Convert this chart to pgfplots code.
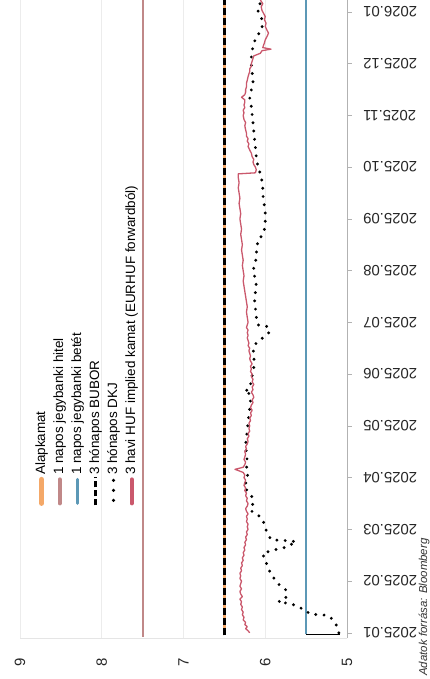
\documentclass[border=0pt]{standalone}
\usepackage{fontspec}
\setmainfont{Liberation Sans}
\usepackage{pgfplots}
\pgfplotsset{compat=1.18}
\definecolor{alap}{RGB}{244,168,104}
\definecolor{hitel}{RGB}{192,136,136}
\definecolor{betet}{RGB}{92,152,182}
\definecolor{implied}{RGB}{202,88,108}
\begin{document}
\begin{tikzpicture}
\begin{scope}[transform canvas={rotate=90}]
\begin{axis}[
  at={(41bp,83bp)}, anchor=south west,
  scale only axis, width=638bp, height=327bp,
  xmin=-0.1, xmax=12.23, ymin=5, ymax=9,
  axis lines*=left,
  x axis line style={gray!60, line width=0.8bp},
  y axis line style={gray!20, line width=0.8bp},
  ymajorgrids, grid style={gray!15, line width=0.8bp},
  xtick={0,...,12},
  xticklabels={2025.01,2025.02,2025.03,2025.04,2025.05,2025.06,2025.07,2025.08,2025.09,2025.10,2025.11,2025.12,2026.01},
  ytick={5,6,7,8,9},
  tick align=outside, major tick length=5bp,
  xtick style={gray!60, line width=0.6bp},
  ytick style={draw=none},
  tick label style={font=\fontsize{15}{15}\selectfont, text=black!85},
  /pgf/number format/assume math mode=true,
  xticklabel style={rotate=90, anchor=east, inner sep=0pt},
  xticklabel shift=11bp,
  yticklabel style={anchor=east, inner sep=0pt, xshift=-15bp},
  legend cell align=left,
  legend style={at={(axis cs:2.43,8.83)}, anchor=north west, draw=none, fill=none, inner sep=0pt,
    font=\fontsize{13.5}{16}\selectfont, row sep=3bp,
    nodes={inner sep=1bp, text height=10bp, text depth=3bp}},
]
\addplot[alap, line width=3bp,
  legend image code/.code={\draw[alap, line width=5bp, line cap=round] (2bp,0bp) -- (26bp,0bp);}]
  coordinates {(-0.05,6.5) (12.23,6.5)};
\addlegendentry{Alapkamat}
\addplot[hitel, line width=1.8bp,
  legend image code/.code={\draw[hitel, line width=4bp, line cap=round] (2bp,0bp) -- (26bp,0bp);}]
  coordinates {(-0.08,7.5) (12.23,7.5)};
\addlegendentry{1 napos jegybanki hitel}
\addplot[betet, line width=1.8bp,
  legend image code/.code={\draw[betet, line width=3bp, line cap=round] (2bp,0bp) -- (26bp,0bp);}]
  coordinates {(-0.03,5.5) (12.23,5.5)};
\addlegendentry{1 napos jegybanki betét}
\addplot[black, line width=2.6bp, dash pattern=on 7bp off 3bp,
  legend image code/.code={\draw[black, line width=3bp, dash pattern=on 6bp off 3bp] (0bp,0bp) -- (28bp,0bp);}]
  coordinates {(-0.05,6.5) (12.23,6.5)};
\addlegendentry{3 hónapos BUBOR}
\addplot[black, line width=3.2bp, line cap=round, dash pattern=on 0bp off 8.3bp,
  legend image code/.code={\draw[black, line width=3.5bp, line cap=round, dash pattern=on 0bp off 10bp] (5bp,0bp) -- (26bp,0bp);}]
  coordinates {
  (0.00,5.10) (0.15,5.13) (0.30,5.20) (0.34,5.25) (0.36,5.45) (0.45,5.52) (0.50,5.60)
  (0.56,5.68) (0.60,5.84) (0.64,5.76) (0.72,5.74) (0.82,5.74) (0.93,5.83) (1.05,5.89)
  (1.15,5.94) (1.28,5.96) (1.40,6.01) (1.54,6.03) (1.58,5.94) (1.62,5.84) (1.66,5.73)
  (1.73,5.66) (1.76,5.62) (1.78,5.72) (1.79,5.84) (1.80,5.93) (1.92,5.97) (2.02,6.00)
  (2.19,6.03) (2.31,6.11) (2.36,6.18) (2.50,6.15) (2.60,6.15) (2.73,6.21) (2.82,6.26)
  (3.00,6.21) (3.15,6.23) (3.31,6.22) (3.63,6.24) (3.92,6.22) (4.21,6.20) (4.47,6.18)
  (4.62,6.19) (4.66,6.26) (4.72,6.19) (4.89,6.17) (5.21,6.13) (5.40,6.15) (5.57,6.13)
  (5.73,6.01) (5.82,5.94) (5.92,5.98) (5.95,6.09) (6.11,6.11) (6.27,6.12) (6.43,6.13)
  (6.60,6.12) (6.76,6.11) (6.89,6.13) (7.01,6.15) (7.14,6.12) (7.30,6.11) (7.46,6.10)
  (7.59,6.09) (7.69,6.03) (7.85,6.00) (8.01,6.00) (8.17,6.00) (8.33,6.02) (8.50,6.03)
  (8.62,6.03) (8.82,6.05) (9.01,6.09) (9.20,6.11) (9.37,6.12) (9.53,6.13) (9.69,6.14)
  (9.85,6.15) (10.01,6.16) (10.17,6.17) (10.33,6.19) (10.49,6.17) (10.65,6.15) (10.82,6.16)
  (10.98,6.17) (11.17,6.17) (11.33,6.15) (11.53,6.11) (11.62,6.05) (11.78,6.03) (11.91,6.05)
  (12.05,6.10) (12.23,6.04)};
\addlegendentry{3 hónapos DKJ}
\addplot[implied, line width=1.3bp, line join=round,
  legend image code/.code={\draw[implied, line width=4bp, line cap=round] (2bp,0bp) -- (26bp,0bp);}]
  coordinates {
  (0.00,6.19) (0.04,6.21) (0.08,6.24) (0.12,6.22) (0.16,6.25) (0.20,6.24) (0.25,6.27)
  (0.30,6.26) (0.35,6.28) (0.40,6.27) (0.45,6.29) (0.50,6.28) (0.55,6.30) (0.60,6.29)
  (0.65,6.31) (0.70,6.28) (0.75,6.30) (0.80,6.31) (0.85,6.29) (0.90,6.31) (0.95,6.30)
  (1.00,6.29) (1.05,6.31) (1.10,6.30) (1.15,6.31) (1.20,6.29) (1.25,6.30) (1.30,6.28)
  (1.35,6.29) (1.40,6.27) (1.45,6.28) (1.50,6.26) (1.55,6.27) (1.60,6.25) (1.65,6.26)
  (1.70,6.24) (1.75,6.25) (1.80,6.23) (1.85,6.24) (1.90,6.22) (1.95,6.23) (2.00,6.21)
  (2.05,6.22) (2.10,6.21) (2.15,6.23) (2.20,6.22) (2.25,6.23) (2.30,6.21) (2.35,6.23)
  (2.40,6.24) (2.45,6.22) (2.50,6.21) (2.55,6.23) (2.60,6.22) (2.65,6.24) (2.70,6.23)
  (2.75,6.25) (2.80,6.24) (2.85,6.26) (2.90,6.25) (2.95,6.24) (3.00,6.26) (3.05,6.25)
  (3.10,6.27) (3.16,6.37) (3.20,6.27) (3.25,6.25) (3.30,6.24) (3.35,6.26) (3.40,6.25)
  (3.45,6.24) (3.50,6.25) (3.55,6.23) (3.60,6.24) (3.65,6.22) (3.70,6.21) (3.75,6.22)
  (3.80,6.20) (3.85,6.21) (3.90,6.19) (3.95,6.20) (4.00,6.19) (4.05,6.20) (4.10,6.18)
  (4.15,6.19) (4.20,6.17) (4.25,6.18) (4.30,6.16) (4.35,6.18) (4.40,6.17) (4.45,6.15)
  (4.50,6.16) (4.55,6.14) (4.60,6.15) (4.65,6.17) (4.70,6.15) (4.75,6.16) (4.80,6.14)
  (4.85,6.16) (4.90,6.15) (4.95,6.17) (5.00,6.16) (5.05,6.18) (5.10,6.17) (5.15,6.18)
  (5.20,6.16) (5.25,6.18) (5.30,6.19) (5.35,6.18) (5.40,6.19) (5.45,6.20) (5.50,6.19)
  (5.55,6.21) (5.60,6.20) (5.65,6.21) (5.70,6.22) (5.75,6.21) (5.80,6.22) (5.85,6.21)
  (5.90,6.23) (5.95,6.22) (6.00,6.21) (6.10,6.22) (6.20,6.23) (6.30,6.22) (6.40,6.23)
  (6.50,6.24) (6.60,6.25) (6.70,6.26) (6.80,6.27) (6.90,6.26) (7.00,6.27) (7.10,6.28)
  (7.20,6.27) (7.30,6.28) (7.40,6.29) (7.50,6.28) (7.60,6.29) (7.70,6.30) (7.80,6.29)
  (7.90,6.30) (8.00,6.31) (8.10,6.30) (8.20,6.31) (8.30,6.32) (8.40,6.31) (8.50,6.32)
  (8.60,6.33) (8.70,6.32) (8.80,6.33) (8.87,6.33) (8.89,6.12) (8.95,6.11) (9.00,6.12)
  (9.05,6.14) (9.10,6.15) (9.15,6.14) (9.20,6.16) (9.27,6.17) (9.33,6.19) (9.40,6.21)
  (9.45,6.20) (9.50,6.22) (9.55,6.21) (9.60,6.23) (9.66,6.23) (9.72,6.24) (9.80,6.25)
  (9.86,6.24) (9.92,6.26) (10.00,6.27) (10.05,6.26) (10.10,6.27) (10.15,6.25) (10.20,6.26)
  (10.25,6.25) (10.30,6.25) (10.35,6.29) (10.40,6.25) (10.45,6.24) (10.50,6.24) (10.55,6.23)
  (10.62,6.23) (10.68,6.22) (10.75,6.21) (10.80,6.20) (10.85,6.19) (10.90,6.19) (10.95,6.17)
  (11.00,6.17) (11.05,6.16) (11.10,6.15) (11.15,6.14) (11.20,6.06) (11.25,6.04) (11.28,5.93)
  (11.31,6.03) (11.36,6.02) (11.40,6.01) (11.46,6.00) (11.52,5.98) (11.59,5.96) (11.65,5.98)
  (11.72,6.00) (11.78,5.99) (11.85,6.01) (11.91,6.00) (11.97,6.02) (12.03,6.04) (12.10,6.05)
  (12.16,6.03) (12.23,6.06)};
\addlegendentry{3 havi HUF implied kamat (EURHUF forwardból)}
\addplot[black, line width=1bp, forget plot] coordinates {(-0.04,5.50) (-0.04,5.08)};
\end{axis}
\node[anchor=base west, inner sep=0pt, font=\itshape\fontsize{11.5}{12}\selectfont, text=black!80] at (3bp,3bp) {Adatok forrása: Bloomberg};
\end{scope}
\pgfresetboundingbox
\path[use as bounding box] (-430bp,0bp) rectangle (0bp,679bp);
\end{tikzpicture}
\end{document}
